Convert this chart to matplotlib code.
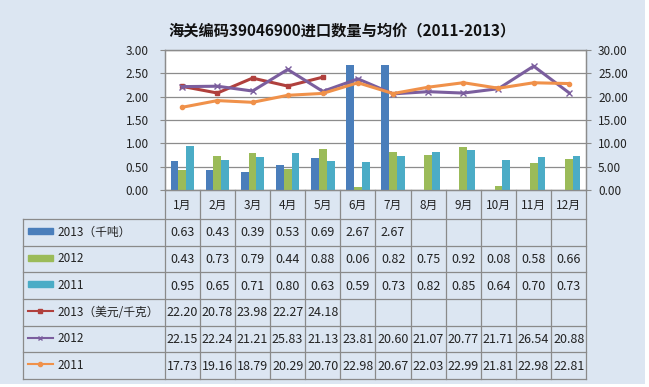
import numpy as np
import matplotlib
matplotlib.use("Agg")
import matplotlib.pyplot as plt
from matplotlib.patches import Rectangle

plt.rcParams['font.family'] = ['Noto Sans CJK SC', 'DejaVu Sans']

months = ['1月', '2月', '3月', '4月', '5月', '6月', '7月', '8月', '9月', '10月', '11月', '12月']

qty_2013 = [0.63, 0.43, 0.39, 0.53, 0.69, 2.67, 2.67, None, None, None, None, None]
qty_2012 = [0.43, 0.73, 0.79, 0.44, 0.88, 0.06, 0.82, 0.75, 0.92, 0.08, 0.58, 0.66]
qty_2011 = [0.95, 0.65, 0.71, 0.80, 0.63, 0.59, 0.73, 0.82, 0.85, 0.64, 0.70, 0.73]

price_2013 = [22.20, 20.78, 23.98, 22.27, 24.18, None, None, None, None, None, None, None]
price_2012 = [22.15, 22.24, 21.21, 25.83, 21.13, 23.81, 20.60, 21.07, 20.77, 21.71, 26.54, 20.88]
price_2011 = [17.73, 19.16, 18.79, 20.29, 20.70, 22.98, 20.67, 22.03, 22.99, 21.81, 22.98, 22.81]

row_names = ['2013（千吨）', '2012', '2011', '2013（美元/千克）', '2012', '2011']

bg = '#dce6f2'
grid_c = '#8c8c8c'
c_blue, c_green, c_teal = '#4a7ebb', '#9bbb59', '#4bacc6'
c_red, c_purple, c_orange = '#b0403d', '#7b5e9e', '#f0914a'

W, H = 649, 387
fig = plt.figure(figsize=(W / 100, H / 100), dpi=100, facecolor='white')
# chart area (leaves a thin white margin right and bottom like the screenshot)
fig.patches.append(Rectangle((0, 1 - 384 / H), 645 / W, 384 / H, transform=fig.transFigure,
                             facecolor=bg, edgecolor='none', zorder=-10))

# plot area in pixels
px_l, px_r, px_t, px_b = 164.7, 586.3, 50, 190
ax = fig.add_axes([px_l / W, 1 - px_b / H, (px_r - px_l) / W, (px_b - px_t) / H])
ax.set_facecolor('white')

x = np.arange(len(months))
bw = 1 / 4.5


def to_arr(v):
    return np.array([np.nan if a is None else a for a in v], dtype=float)


ax.bar(x - bw, to_arr(qty_2013), bw, color=c_blue, zorder=3)
ax.bar(x, to_arr(qty_2012), bw, color=c_green, zorder=3)
ax.bar(x + bw, to_arr(qty_2011), bw, color=c_teal, zorder=3)

ax.set_xlim(-0.5, len(months) - 0.5)
ax.set_ylim(0, 3)
ax.set_yticks(np.arange(0, 3.01, 0.5))
ax.set_yticklabels(['%.2f' % v for v in np.arange(0, 3.01, 0.5)])
ax.yaxis.grid(True, color=grid_c, lw=0.9, zorder=0)
ax.set_axisbelow(True)
ax.set_xticks([])
for s in ax.spines.values():
    s.set_color(grid_c)
    s.set_linewidth(0.9)
ax.tick_params(axis='y', length=3.5, width=0.8, color=grid_c, pad=8, labelsize=8.5, labelcolor='#222222')

ax2 = ax.twinx()
ax2.plot(x, to_arr(price_2013), color=c_red, lw=2.2, marker='s', ms=3.5, zorder=4)
ax2.plot(x, to_arr(price_2012), color=c_purple, lw=2.2, marker='x', ms=4, mew=1, zorder=5)
ax2.plot(x, to_arr(price_2011), color=c_orange, lw=2.2, marker='o', ms=3, zorder=6)
ax2.set_ylim(0, 30)
ax2.set_yticks(np.arange(0, 30.1, 5))
ax2.set_yticklabels(['%.2f' % v for v in np.arange(0, 30.1, 5)])
for s in ax2.spines.values():
    s.set_color(grid_c)
    s.set_linewidth(0.9)
ax2.tick_params(axis='y', length=3.5, width=0.8, color=grid_c, pad=5, labelsize=8.5, labelcolor='#222222')

fig.text(342 / W, 1 - 30 / H, '海关编码39046900进口数量与均价（2011-2013）',
         ha='center', va='center', fontsize=11, fontweight='bold', color='#111111')

# data table below the plot
tb_b = 379
axt = fig.add_axes([px_l / W, 1 - tb_b / H, (px_r - px_l) / W, (tb_b - px_b) / H])
axt.set_xlim(-0.5, len(months) - 0.5)
axt.set_ylim(tb_b - px_b, 0)
axt.axis('off')

colw = (px_r - px_l) / len(months)
lab_l = -0.5 - (px_l - 23.3) / colw
head_h = 29
row_h = (tb_b - px_b - head_h) / len(row_names)
rows_y = [head_h + i * row_h for i in range(len(row_names) + 1)]
lc = '#8a8a8a'

for i in range(len(months) + 1):
    axt.plot([i - 0.5, i - 0.5], [0, rows_y[-1]], color=lc, lw=0.9, clip_on=False)
for yy in rows_y:
    axt.plot([lab_l, len(months) - 0.5], [yy, yy], color=lc, lw=0.9, clip_on=False)
axt.plot([lab_l, lab_l], [rows_y[0], rows_y[-1]], color=lc, lw=0.9, clip_on=False)

for i, m in enumerate(months):
    axt.text(i, head_h / 2 + 1, m, ha='center', va='center', fontsize=8.5, color='#222222')

table_rows = [qty_2013, qty_2012, qty_2011, price_2013, price_2012, price_2011]
for r, vals in enumerate(table_rows):
    yc = rows_y[r] + row_h / 2
    for i, v in enumerate(vals):
        if v is not None:
            axt.text(i, yc + 0.5, '%.2f' % v, ha='center', va='center', fontsize=9, color='#222222')

# legend keys in label column
k0 = lab_l + 5 / colw
k1 = lab_l + 29.4 / colw
kt = lab_l + 33.7 / colw
bar_cols = [c_blue, c_green, c_teal]
line_cols = [c_red, c_purple, c_orange]
line_mk = ['s', 'x', 'o']
for r, name in enumerate(row_names):
    yc = rows_y[r] + row_h / 2
    if r < 3:
        axt.add_patch(Rectangle((k0, yc - 4.5), k1 - k0, 6, color=bar_cols[r], clip_on=False))
    else:
        axt.plot([k0, k1], [yc - 1.5, yc - 1.5], color=line_cols[r - 3], lw=1.5, clip_on=False)
        axt.plot([(k0 + k1) / 2], [yc - 1.5], color=line_cols[r - 3], marker=line_mk[r - 3],
                 ms=3, mew=1, clip_on=False)
    axt.text(kt, yc, name, ha='left', va='center', fontsize=8.5, color='#222222')

fig.savefig('out.png', dpi=100, facecolor='white')
